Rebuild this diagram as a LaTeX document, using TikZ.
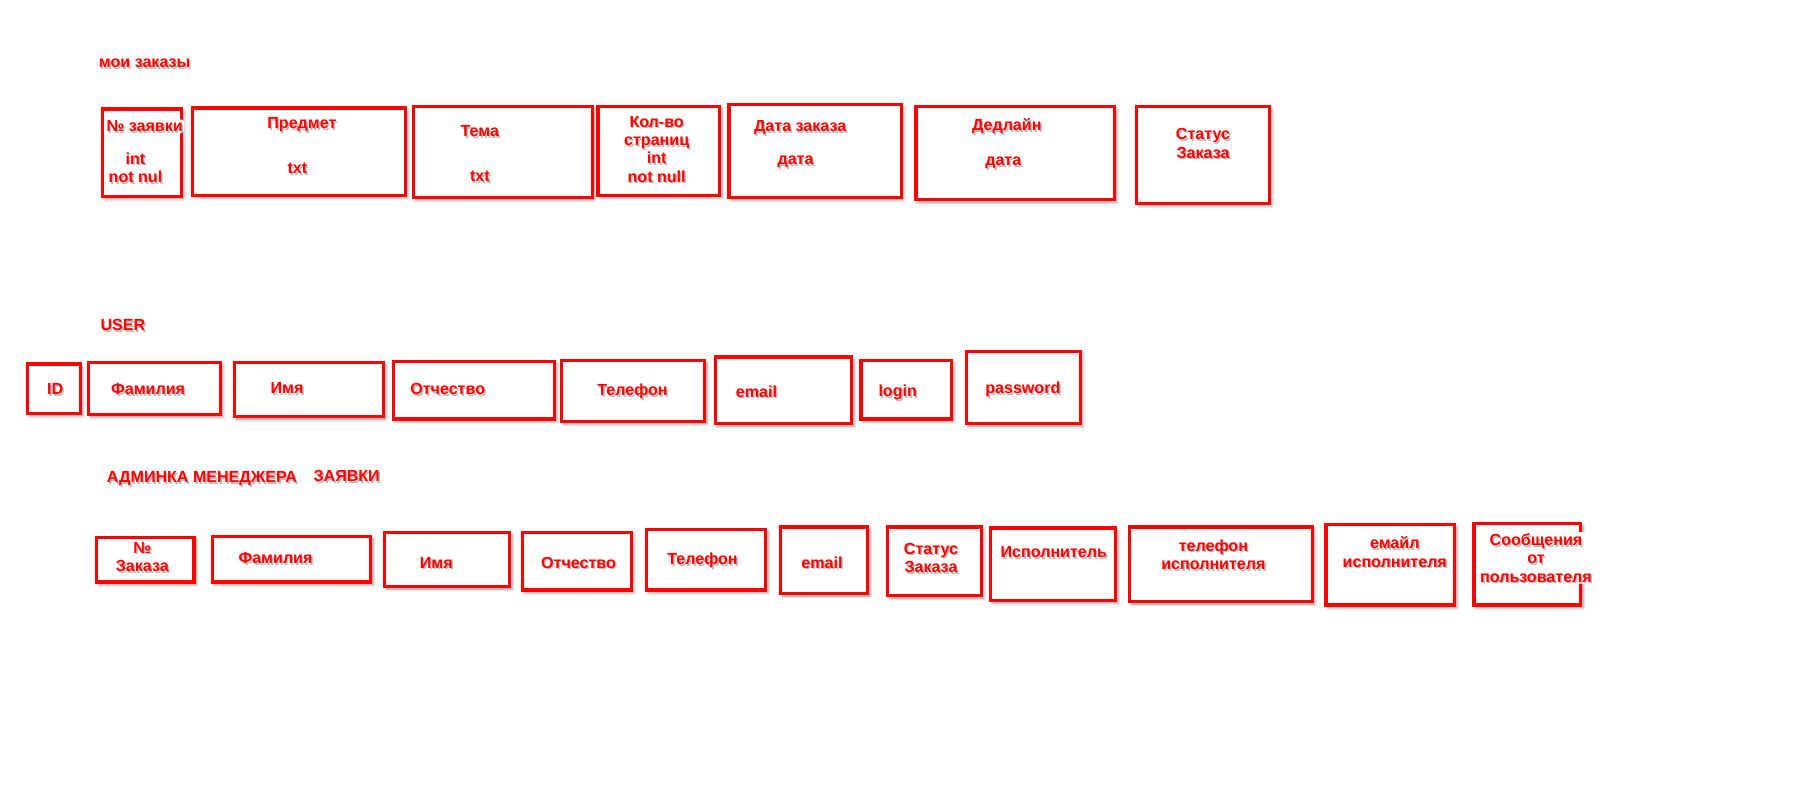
\documentclass[tikz,border=0pt]{standalone}
\usepackage{fontspec}
\setmainfont{Liberation Sans}
\usetikzlibrary{shadows,shadows.blur,fit}
\definecolor{boxred}{RGB}{255,0,0}
\newcommand\lblfont{\fontsize{14}{16}\selectfont\bfseries}
\tikzset{
  field/.style={draw=boxred, line width=2.8pt, fill=white, inner sep=0pt,
    blur shadow={shadow xshift=2pt, shadow yshift=-2.2pt, shadow blur radius=2.5pt, shadow opacity=45}},
  halo/.style={fill=white, rounded corners=3pt, inner sep=1.2pt, text opacity=0, font=\lblfont, align=center},
  lblshade/.style={text=black!60, opacity=0.45, inner sep=1.2pt, font=\lblfont, align=center},
  lbltext/.style={text=boxred, inner sep=1.2pt, font=\lblfont, align=center},
}
% label: white backing, soft grey copy, red text on top
\newcommand\lbl[3]{%
  \node[halo] (#1) at (#2) {#3};
  \node[lblshade] (#1-s) at ([shift={(1.3,1.5)}]#1.center) {#3};
  \node[lbltext] (#1-t) at (#1.center) {#3};}
\begin{document}
\begin{tikzpicture}[x=1pt,y=-1pt]
\useasboundingbox (0,0) rectangle (1568,697);

% ---- мои заказы ----
\node[field, fit={(89,95)(158,171)}]   (o-num) {};
\node[field, fit={(168,94)(353,170)}]  (o-subj) {};
\node[field, fit={(360,93)(516,172)}]  (o-topic) {};
\node[field, fit={(521,93)(627,170)}]  (o-pages) {};
\node[field, fit={(635,91)(785,172)}]  (o-date) {};
\node[field, fit={(798,93)(971,174)}]  (o-deadline) {};
\node[field, fit={(990,93)(1106,177)}] (o-status) {};

\lbl{t-myorders}{126,55}{мои заказы}
\lbl{t-num}{126,110}{№ заявки}
\lbl{t-num-type}{118,146}{int\\not nul}
\lbl{t-subj}{263,109}{Предмет}
\lbl{t-subj-type}{259,147}{txt}
\lbl{t-topic}{418,114}{Тема}
\lbl{t-topic-type}{418,154}{txt}
\lbl{t-pages}{572,130}{Кол-во\\страниц\\int\\not null}
\lbl{t-date}{697,111}{Дата заказа}
\lbl{t-date-type}{693,141}{дата}
\lbl{t-deadline}{877,110}{Дедлайн}
\lbl{t-deadline-type}{874,142}{дата}
\lbl{t-status}{1048,125}{Статус\\Заказа}

% ---- USER ----
\node[field, fit={(24,317)(70,360)}]   (u-id) {};
\node[field, fit={(77,316)(192,361)}]  (u-last) {};
\node[field, fit={(204,316)(334,363)}] (u-first) {};
\node[field, fit={(343,315)(483,365)}] (u-middle) {};
\node[field, fit={(489,314)(614,367)}] (u-phone) {};
\node[field, fit={(623,311)(742,369)}] (u-email) {};
\node[field, fit={(750,314)(829,365)}] (u-login) {};
\node[field, fit={(842,306)(941,369)}] (u-pass) {};

\lbl{t-user}{107,283}{USER}
\lbl{t-u-id}{48,339}{ID}
\lbl{t-u-last}{129,339}{Фамилия}
\lbl{t-u-first}{250,338}{Имя}
\lbl{t-u-middle}{390,339}{Отчество}
\lbl{t-u-phone}{551,341}{Телефон}
\lbl{t-u-email}{659,341}{email}
\lbl{t-u-login}{782,342}{login}
\lbl{t-u-pass}{891,339}{password}

% ---- админка менеджера ----
\node[field, fit={(84,468)(169,507)}]    (a-num) {};
\node[field, fit={(185,467)(323,507)}]   (a-last) {};
\node[field, fit={(335,464)(444,511)}]   (a-first) {};
\node[field, fit={(455,464)(550,514)}]   (a-middle) {};
\node[field, fit={(563,461)(667,514)}]   (a-phone) {};
\node[field, fit={(680,459)(756,517)}]   (a-email) {};
\node[field, fit={(773,459)(855,519)}]   (a-status) {};
\node[field, fit={(863,460)(972,523)}]   (a-exec) {};
\node[field, fit={(984,459)(1143,524)}]  (a-exec-phone) {};
\node[field, fit={(1155,457)(1267,527)}] (a-exec-email) {};
\node[field, fit={(1284,456)(1377,527)}] (a-msg) {};

\lbl{t-admin}{176,417}{АДМИНКА МЕНЕДЖЕРА}
\lbl{t-requests}{302,415}{ЗАЯВКИ}
\lbl{t-a-num}{124,485}{№\\Заказа}
\lbl{t-a-last}{240,486}{Фамилия}
\lbl{t-a-first}{380,490}{Имя}
\lbl{t-a-middle}{504,490}{Отчество}
\lbl{t-a-phone}{612,488}{Телефон}
\lbl{t-a-email}{716,490}{email}
\lbl{t-a-status}{811,486}{Статус\\Заказа}
\lbl{t-a-exec}{918,481}{Исполнитель}
\lbl{t-a-exec-phone}{1057,483}{телефон\\исполнителя}
\lbl{t-a-exec-email}{1215,481}{емайл\\исполнителя}
\lbl{t-a-msg}{1338,486}{Сообщения\\от\\пользователя}
\end{tikzpicture}
\end{document}
